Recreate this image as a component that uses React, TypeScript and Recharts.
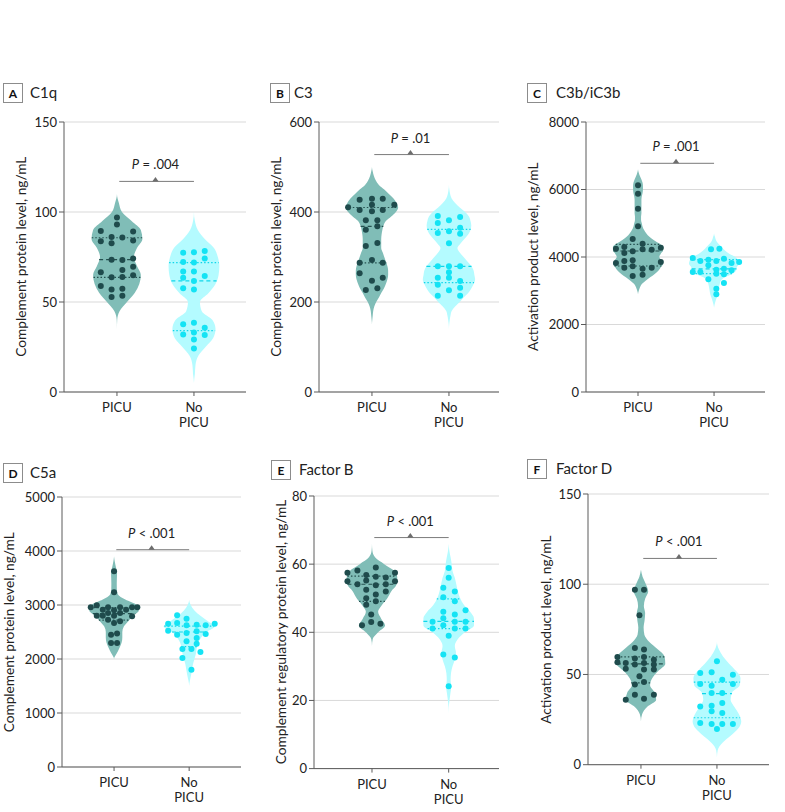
import React from 'react';
import { ComposedChart, Area, Scatter, XAxis, YAxis, CartesianGrid, ReferenceLine } from 'recharts';

const FONT = 'Lato, "Open Sans", sans-serif';
const CATEGORIES = ['PICU', 'No PICU'];
const PICU_FILL = '#80bdb7';
const PICU_DOT = '#1f4b4c';
const PICU_LINE = '#24504f';
const NO_FILL = '#b4fbff';
const NO_DOT = '#14e3f4';
const NO_LINE = '#10d6ea';

// ---------- Panel A: C1q ----------
const A_LEVELS = [115, 110, 105, 100, 95, 90, 85, 80, 75, 70, 65, 60, 55, 50, 45, 40, 35, 30, 25, 20, 15, 10, 5, 0];
const A_PICU_HW = [0, 0, 0.025, 0.065, 0.19, 0.31, 0.33, 0.26, 0.22, 0.26, 0.31, 0.29, 0.23, 0.13, 0.035, 0.003, 0, 0, 0, 0, 0, 0, 0, 0];
const A_NO_HW = [0, 0, 0, 0, 0.012, 0.05, 0.14, 0.26, 0.31, 0.33, 0.32, 0.28, 0.19, 0.078, 0.1, 0.24, 0.28, 0.25, 0.15, 0.055, 0.02, 0.012, 0, 0];
const A_PICU_VALS = [96.9, 93.1, 89.4, 89.1, 83.7, 86.1, 85.9, 82.6, 84.1, 73.5, 73.3, 74.1, 66.5, 67.8, 69.6, 63.7, 63.9, 64.8, 58.9, 56.9, 57.4, 52.8, 53.5];
const A_PICU_OFF = [0, 0, -0.21, 0.21, -0.21, -0.07, 0.07, -0.07, 0.21, -0.07, 0.07, 0.21, -0.21, 0.07, 0.21, -0.07, 0.07, 0.21, -0.21, -0.07, 0.07, -0.07, 0.07];
const A_NO_VALS = [77.4, 77.6, 78.3, 74.1, 72.2, 71.9, 67.0, 67.0, 63.5, 61.7, 64.4, 57.6, 56.9, 37.6, 38.5, 35.7, 32.0, 33.1, 31.7, 29.1, 24.1];
const A_NO_OFF = [-0.14, 0, 0.14, 0.14, -0.14, 0, -0.14, 0, -0.14, 0, 0.14, -0.14, 0, -0.14, 0, 0.14, -0.14, 0, 0.14, 0, 0];
const A_PICU_Q = [63.7, 73.5, 85.7];
const A_NO_Q = [34.1, 61.7, 71.9];
const A_TICKS = [0, 50, 100, 150];

// ---------- Panel B: C3 ----------
const B_LEVELS = [510, 500, 490, 480, 470, 460, 450, 440, 430, 420, 410, 400, 390, 380, 370, 360, 350, 340, 330, 320, 310, 300, 290, 280, 270, 260, 250, 240, 230, 220, 210, 200, 190, 180, 170, 160, 150, 140];
const B_PICU_HW = [0, 0, 0.01, 0.025, 0.05, 0.09, 0.16, 0.22, 0.28, 0.32, 0.34, 0.31, 0.25, 0.18, 0.15, 0.135, 0.125, 0.12, 0.12, 0.12, 0.14, 0.16, 0.18, 0.2, 0.21, 0.21, 0.2, 0.18, 0.155, 0.12, 0.09, 0.055, 0.03, 0.016, 0.01, 0.004, 0, 0];
const B_NO_HW = [0, 0, 0, 0, 0, 0, 0.005, 0.015, 0.035, 0.08, 0.14, 0.21, 0.26, 0.28, 0.29, 0.28, 0.25, 0.2, 0.15, 0.11, 0.14, 0.19, 0.24, 0.29, 0.32, 0.33, 0.34, 0.32, 0.29, 0.25, 0.19, 0.14, 0.08, 0.035, 0.02, 0.01, 0.003, 0];
const B_PICU_VALS = [427.4, 429.6, 429.6, 410.4, 416.3, 416.3, 404.4, 401.5, 404.4, 381.5, 381.5, 360.7, 368.1, 324.4, 331.1, 287.4, 293.3, 287.4, 263.7, 254.1, 247.4, 226.7, 230.4];
const B_PICU_OFF = [-0.16, 0, 0.14, -0.31, 0.29, 0, -0.16, 0, 0.14, -0.08, 0.07, -0.08, 0.07, -0.08, 0.07, -0.16, 0, 0.14, -0.16, 0.14, 0, -0.08, 0.07];
const B_NO_VALS = [391, 381.5, 388.9, 375.6, 357, 365, 351.9, 353.3, 330.4, 279.3, 279.3, 279.3, 266, 254, 254, 238.5, 246.7, 231.9, 225.9, 214, 214];
const B_NO_OFF = [-0.145, 0, 0.145, -0.145, 0, 0.145, 0.145, -0.145, 0, -0.145, 0, 0.145, 0, -0.145, 0, -0.145, 0.145, 0.145, 0, -0.145, 0.145];
const B_PICU_Q = [287, 368, 410];
const B_NO_Q = [243, 279, 361.5];
const B_TICKS = [0, 200, 400, 600];

// ---------- Panel C: C3b/iC3b ----------
const C_LEVELS = [6700, 6600, 6500, 6400, 6300, 6200, 6100, 6000, 5900, 5800, 5700, 5600, 5500, 5400, 5300, 5200, 5100, 5000, 4900, 4800, 4700, 4600, 4500, 4400, 4300, 4200, 4100, 4000, 3900, 3800, 3700, 3600, 3500, 3400, 3300, 3200, 3100, 3000, 2900, 2800, 2700, 2600, 2500];
const C_PICU_HW = [0, 0, 0.01, 0.025, 0.045, 0.06, 0.065, 0.065, 0.06, 0.05, 0.045, 0.045, 0.045, 0.045, 0.045, 0.04, 0.04, 0.05, 0.06, 0.08, 0.11, 0.15, 0.21, 0.28, 0.33, 0.33, 0.3, 0.28, 0.31, 0.33, 0.3, 0.27, 0.22, 0.16, 0.1, 0.05, 0.025, 0.01, 0, 0, 0, 0, 0];
const C_NO_HW = [0, 0, 0, 0, 0, 0, 0, 0, 0, 0, 0, 0, 0, 0, 0, 0, 0, 0, 0, 0, 0, 0.012, 0.026, 0.055, 0.1, 0.14, 0.2, 0.28, 0.32, 0.33, 0.3, 0.29, 0.24, 0.14, 0.09, 0.075, 0.065, 0.058, 0.05, 0.035, 0.02, 0.008, 0];
const C_PICU_VALS = [6123, 5877, 5432, 4909, 4533, 4395, 4247, 4296, 4230, 4217, 4277, 4119, 4170, 3822, 3881, 3901, 3852, 3684, 3723, 3654, 3684, 3437, 3477];
const C_PICU_OFF = [0, 0, 0, 0, -0.07, 0.06, -0.29, -0.18, 0.06, 0.18, 0.3, -0.18, -0.07, -0.29, -0.18, -0.07, 0.3, -0.18, -0.07, 0.06, 0.18, -0.07, 0.06];
const C_NO_VALS = [4227, 4247, 3970, 3881, 3921, 3881, 3950, 3822, 3852, 3556, 3556, 3753, 3625, 3654, 3605, 3338, 3506, 3486, 3230, 3062, 2894];
const C_NO_OFF = [-0.04, 0.07, -0.28, -0.18, -0.075, 0.03, 0.13, 0.23, 0.33, -0.28, -0.18, -0.075, 0.03, 0.13, 0.23, -0.075, 0.03, 0.13, 0.13, 0.03, 0.03];
const C_PICU_Q = [3733, 4178, 4375];
const C_NO_Q = [3510, 3650, 3920];
const C_TICKS = [0, 2000, 4000, 6000, 8000];

// ---------- Panel D: C5a ----------
const D_LEVELS = [3900, 3800, 3700, 3600, 3500, 3400, 3300, 3200, 3100, 3000, 2900, 2800, 2700, 2600, 2500, 2400, 2300, 2200, 2100, 2000, 1900, 1800, 1700, 1600, 1500, 1400];
const D_PICU_HW = [0, 0.01, 0.025, 0.04, 0.038, 0.036, 0.037, 0.05, 0.15, 0.3, 0.33, 0.25, 0.19, 0.13, 0.11, 0.11, 0.1, 0.07, 0.035, 0, 0, 0, 0, 0, 0, 0];
const D_NO_HW = [0, 0, 0, 0, 0, 0, 0, 0, 0, 0.02, 0.07, 0.15, 0.25, 0.34, 0.23, 0.16, 0.12, 0.1, 0.09, 0.07, 0.05, 0.038, 0.025, 0.01, 0, 0];
const D_PICU_VALS = [3623, 3234, 2957, 2994, 2914, 2957, 2901, 2957, 2914, 2957, 2957, 2803, 2803, 2852, 2803, 2852, 2790, 2728, 2667, 2698, 2451, 2470, 2297, 2297];
const D_PICU_OFF = [0, 0, -0.31, -0.23, -0.15, -0.08, 0, 0.08, 0.16, 0.24, 0.31, -0.23, -0.15, -0.08, 0, 0.08, 0.24, -0.08, 0, 0.08, -0.04, 0.04, -0.04, 0.04];
const D_NO_VALS = [2809, 2747, 2654, 2667, 2623, 2636, 2623, 2654, 2525, 2451, 2481, 2512, 2463, 2327, 2389, 2284, 2185, 2185, 2130, 2018, 1802];
const D_NO_OFF = [-0.16, -0.035, -0.28, -0.16, -0.035, 0.1, 0.22, 0.34, -0.28, -0.16, -0.035, 0.1, 0.22, -0.035, 0.1, 0.1, -0.09, 0.03, 0.15, -0.09, 0.03];
const D_PICU_Q = [2720, 2840, 2950];
const D_NO_Q = [2230, 2500, 2610];
const D_TICKS = [0, 1000, 2000, 3000, 4000, 5000];

// ---------- Panel E: Factor B ----------
const E_LEVELS = [66, 64, 62, 60, 58, 56, 54, 52, 50, 48, 46, 44, 42, 40, 38, 36, 34, 32, 30, 28, 26, 24, 22, 20, 18, 16];
const E_PICU_HW = [0, 0.005, 0.04, 0.16, 0.29, 0.33, 0.32, 0.25, 0.2, 0.13, 0.08, 0.12, 0.17, 0.08, 0.01, 0, 0, 0, 0, 0, 0, 0, 0, 0, 0, 0];
const E_NO_HW = [0, 0.008, 0.025, 0.04, 0.05, 0.08, 0.1, 0.12, 0.15, 0.2, 0.28, 0.33, 0.33, 0.21, 0.12, 0.08, 0.095, 0.08, 0.05, 0.03, 0.025, 0.033, 0.022, 0.01, 0.002, 0];
const E_PICU_VALS = [57.5, 58.1, 59.0, 56.8, 57.5, 55.0, 54.1, 55.2, 56.3, 56.1, 55.0, 53.8, 54.1, 52.5, 51.1, 52.0, 50.0, 48.1, 49.1, 45.2, 43.0, 42.1, 42.5];
const E_PICU_OFF = [-0.32, -0.19, 0.05, -0.075, 0.3, -0.32, -0.19, -0.075, 0.05, 0.18, 0.3, 0.05, 0.18, -0.075, 0.05, 0.18, -0.075, -0.075, 0.05, -0.01, -0.01, -0.13, 0.11];
const E_NO_VALS = [58.9, 56.0, 53.1, 52.0, 50.3, 49.1, 46.0, 46.5, 44.1, 45.2, 43.1, 43.1, 43.1, 42.1, 41.1, 41.1, 41.1, 39.0, 33.5, 32.6, 24.2];
const E_NO_OFF = [0, 0, -0.07, 0.08, -0.07, 0.08, -0.07, 0.22, -0.07, 0.08, -0.21, 0.08, 0.22, -0.07, -0.21, 0.08, 0.22, 0, -0.07, 0.08, 0];
const E_PICU_Q = [49.1, 54.1, 56.5];
const E_NO_Q = [41.1, 43.2, 49.8];
const E_TICKS = [0, 20, 40, 60, 80];

// ---------- Panel F: Factor D ----------
const F_LEVELS = [108, 104, 100, 96, 92, 88, 84, 80, 76, 72, 68, 64, 60, 56, 52, 48, 44, 40, 36, 32, 28, 24, 20, 16, 12, 8, 4];
const F_PICU_HW = [0, 0.022, 0.065, 0.095, 0.055, 0.038, 0.055, 0.048, 0.035, 0.045, 0.11, 0.22, 0.31, 0.32, 0.23, 0.15, 0.12, 0.18, 0.2, 0.08, 0.015, 0, 0, 0, 0, 0, 0];
const F_NO_HW = [0, 0, 0, 0, 0, 0, 0, 0, 0, 0, 0, 0.025, 0.08, 0.16, 0.25, 0.31, 0.3, 0.2, 0.18, 0.23, 0.29, 0.32, 0.28, 0.18, 0.07, 0.01, 0];
const F_PICU_VALS = [96.9, 96.9, 82.8, 64.7, 63.8, 59.7, 56.7, 56.4, 53.2, 58.8, 59.7, 58.2, 55.5, 56.4, 55.5, 52.7, 52.7, 49.0, 44.4, 45.8, 38.8, 36.0, 36.6, 38.8];
const F_PICU_OFF = [-0.08, 0.04, -0.02, -0.08, 0.04, -0.31, -0.31, -0.2, -0.2, -0.08, 0.04, 0.17, -0.08, 0.04, 0.17, 0.04, 0.17, -0.02, -0.08, 0.04, -0.08, -0.2, 0.04, 0.17];
const F_NO_VALS = [57.3, 50.8, 51.2, 49.9, 44.7, 43.8, 47.1, 44.7, 39.7, 39.7, 32.3, 32.7, 34.2, 29.6, 28.7, 23.1, 22.6, 22.6, 22.6, 19.8];
const F_NO_OFF = [0, -0.22, -0.07, 0.21, -0.22, -0.07, 0.07, 0.21, -0.07, 0.07, -0.22, -0.07, 0.07, -0.07, 0.07, -0.22, -0.07, 0.07, 0.21, 0];
const F_PICU_Q = [45.3, 55.9, 59.7];
const F_NO_Q = [26.0, 39.4, 45.7];
const F_TICKS = [0, 50, 100, 150];

// P values
const P_OPS = ['=', '=', '=', '<', '<', '<'];
const P_VALUES = ['.004', '.01', '.001', '.001', '.001', '.001'];
const P_LEVELS = [117, 527.6, 6776, 4024, 67.8, 114.3];
const BRACKET = [1.03, 2.0];

const LETTERS = ['A', 'B', 'C', 'D', 'E', 'F'];
const TITLES = ['C1q', 'C3', 'C3b/iC3b', 'C5a', 'Factor B', 'Factor D'];
const Y_TITLES = [
  'Complement protein level, ng/mL',
  'Complement protein level, ng/mL',
  'Activation product level, ng/mL',
  'Complement protein level, ng/mL',
  'Complement regulatory protein level, ng/mL',
  'Activation product level, ng/mL',
];

// layout (page pixels)
const LAYOUT = [
  { plotLeft: 64, plotTop: 121.7, plotW: 182, plotH: 270, dom: [0.312, 2.676], boxX: 3, boxY: 83, textX: 30, titleX: 26 },
  { plotLeft: 319, plotTop: 121.7, plotW: 180, plotH: 270, dom: [0.312, 2.65], boxX: 270, boxY: 83, textX: 294, titleX: 281 },
  { plotLeft: 586, plotTop: 121.7, plotW: 179, plotH: 270, dom: [0.316, 2.67], boxX: 527, boxY: 83, textX: 556, titleX: 538 },
  { plotLeft: 62, plotTop: 497.3, plotW: 179, plotH: 270, dom: [0.307, 2.69], boxX: 3, boxY: 463, textX: 30, titleX: 14 },
  { plotLeft: 314, plotTop: 495.7, plotW: 185, plotH: 272.6, dom: [0.244, 2.656], boxX: 271, boxY: 460, textX: 299, titleX: 286 },
  { plotLeft: 588, plotTop: 494.3, plotW: 181, plotH: 270.7, dom: [0.303, 2.685], boxX: 527, boxY: 459, textX: 556, titleX: 551 },
];

const PANEL_DATA = [
  { levels: A_LEVELS, ph: A_PICU_HW, nh: A_NO_HW, pv: A_PICU_VALS, po: A_PICU_OFF, nv: A_NO_VALS, no: A_NO_OFF, pq: A_PICU_Q, nq: A_NO_Q, ticks: A_TICKS },
  { levels: B_LEVELS, ph: B_PICU_HW, nh: B_NO_HW, pv: B_PICU_VALS, po: B_PICU_OFF, nv: B_NO_VALS, no: B_NO_OFF, pq: B_PICU_Q, nq: B_NO_Q, ticks: B_TICKS },
  { levels: C_LEVELS, ph: C_PICU_HW, nh: C_NO_HW, pv: C_PICU_VALS, po: C_PICU_OFF, nv: C_NO_VALS, no: C_NO_OFF, pq: C_PICU_Q, nq: C_NO_Q, ticks: C_TICKS },
  { levels: D_LEVELS, ph: D_PICU_HW, nh: D_NO_HW, pv: D_PICU_VALS, po: D_PICU_OFF, nv: D_NO_VALS, no: D_NO_OFF, pq: D_PICU_Q, nq: D_NO_Q, ticks: D_TICKS },
  { levels: E_LEVELS, ph: E_PICU_HW, nh: E_NO_HW, pv: E_PICU_VALS, po: E_PICU_OFF, nv: E_NO_VALS, no: E_NO_OFF, pq: E_PICU_Q, nq: E_NO_Q, ticks: E_TICKS },
  { levels: F_LEVELS, ph: F_PICU_HW, nh: F_NO_HW, pv: F_PICU_VALS, po: F_PICU_OFF, nv: F_NO_VALS, no: F_NO_OFF, pq: F_PICU_Q, nq: F_NO_Q, ticks: F_TICKS },
];

const YW = 50;
const MT = 10;
const MR = 4;
const XH = 45;

function hwAt(levels: number[], hw: number[], v: number) {
  for (let i = 0; i < levels.length - 1; i++) {
    const a = levels[i];
    const b = levels[i + 1];
    if (v <= a && v >= b) {
      const t = (a - v) / (a - b);
      return hw[i] + t * (hw[i + 1] - hw[i]);
    }
  }
  return 0;
}

const CatTick = (props: any) => {
  const { x, y, payload } = props;
  const label = CATEGORIES[Math.round(payload.value) - 1] || '';
  const lines = label === 'No PICU' ? ['No', 'PICU'] : [label];
  return (
    <text x={x} y={y} textAnchor="middle" fontSize={13} fontFamily={FONT} fill="#222">
      {lines.map((l, i) => (
        <tspan key={i} x={x} dy={i === 0 ? 14 : 15}>{l}</tspan>
      ))}
    </text>
  );
};

const makeDot = (color: string) => (props: any) => {
  const { cx, cy } = props;
  if (cx == null || cy == null) return <g />;
  return <circle cx={cx} cy={cy} r={3} fill={color} />;
};

const makePMark = (op: string, val: string) => (props: any) => {
  const { cx, cy } = props;
  if (cx == null || cy == null) return <g />;
  return (
    <g>
      <path d={`M${cx - 3.2},${cy} L${cx + 3.2},${cy} L${cx},${cy - 4.5} Z`} fill="#6d6d6d" />
      <text x={cx} y={cy - 12} textAnchor="middle" fontSize={13} fontFamily={FONT} fill="#222">
        <tspan fontStyle="italic">P</tspan>
        <tspan>{` ${op} ${val}`}</tspan>
      </text>
    </g>
  );
};

function Panel({ idx }: { idx: number }) {
  const d = PANEL_DATA[idx];
  const L = LAYOUT[idx];
  const yMax = d.ticks[d.ticks.length - 1];
  const rows = d.levels.map((y, i) => ({
    y,
    picu: [1 - d.ph[i], 1 + d.ph[i]],
    nopicu: [2 - d.nh[i], 2 + d.nh[i]],
  }));
  const picuPts = d.pv.map((v, i) => ({ x: 1 + d.po[i], y: v }));
  const noPts = d.nv.map((v, i) => ({ x: 2 + d.no[i], y: v }));
  const pPt = [{ x: (BRACKET[0] + BRACKET[1]) / 2 - 0.015, y: P_LEVELS[idx] }];
  const qLines: any[] = [];
  [0, 1, 2].forEach((qi) => {
    const pv = d.pq[qi];
    const pw = hwAt(d.levels, d.ph, pv);
    qLines.push({ c: 1, v: pv, w: pw, color: PICU_LINE, dash: qi === 1 ? '4 3' : '1.5 2' });
    const nv = d.nq[qi];
    const nw = hwAt(d.levels, d.nh, nv);
    qLines.push({ c: 2, v: nv, w: nw, color: NO_LINE, dash: qi === 1 ? '4 3' : '1.5 2' });
  });
  const W = YW + L.plotW + MR;
  const H = MT + L.plotH + XH;
  return (
    <div style={{ position: 'absolute', left: L.plotLeft - YW, top: L.plotTop - MT, width: W, height: H }}>
      <ComposedChart
        width={W}
        height={H}
        data={rows}
        layout="vertical"
        margin={{ top: MT, right: MR, left: 0, bottom: 0 }}
      >
        <CartesianGrid vertical={false} stroke="#d9d9d9" />
        <XAxis
          type="number"
          dataKey="x"
          domain={L.dom}
          ticks={[1, 2]}
          allowDataOverflow
          interval={0}
          height={XH}
          tickSize={4}
          tickMargin={2}
          axisLine={{ stroke: '#5a5a5a' }}
          tickLine={{ stroke: '#5a5a5a' }}
          tick={<CatTick />}
        />
        <YAxis
          type="number"
          dataKey="y"
          domain={[0, yMax]}
          ticks={d.ticks}
          reversed
          allowDataOverflow
          interval={0}
          width={YW}
          tickSize={5}
          tickMargin={2}
          axisLine={{ stroke: '#5a5a5a' }}
          tickLine={{ stroke: '#5a5a5a' }}
          tick={{ fontSize: 13, fill: '#222', fontFamily: FONT }}
        />
        <Area
          dataKey="picu"
          type="monotone"
          stroke="none"
          fill={PICU_FILL}
          fillOpacity={1}
          dot={false}
          activeDot={false}
          isAnimationActive={false}
        />
        <Area
          dataKey="nopicu"
          type="monotone"
          stroke="none"
          fill={NO_FILL}
          fillOpacity={1}
          dot={false}
          activeDot={false}
          isAnimationActive={false}
        />
        {qLines.map((q, i) => (
          <ReferenceLine
            key={i}
            segment={[{ x: q.c - q.w, y: q.v }, { x: q.c + q.w, y: q.v }]}
            stroke={q.color}
            strokeWidth={1.2}
            strokeDasharray={q.dash}
            ifOverflow="visible"
          />
        ))}
        <Scatter data={picuPts} shape={makeDot(PICU_DOT)} isAnimationActive={false} />
        <Scatter data={noPts} shape={makeDot(NO_DOT)} isAnimationActive={false} />
        <ReferenceLine
          segment={[{ x: BRACKET[0], y: P_LEVELS[idx] }, { x: BRACKET[1], y: P_LEVELS[idx] }]}
          stroke="#7a7a7a"
          strokeWidth={1}
          ifOverflow="visible"
        />
        <Scatter data={pPt} shape={makePMark(P_OPS[idx], P_VALUES[idx])} isAnimationActive={false} />
      </ComposedChart>
    </div>
  );
}

export default function App() {
  return (
    <div style={{ position: 'absolute', left: 0, top: 0, width: 785, height: 812, background: '#fff' }}>
      {[0, 1, 2, 3, 4, 5].map((i) => (
        <Panel key={i} idx={i} />
      ))}
      <svg width={785} height={812} style={{ position: 'absolute', left: 0, top: 0, pointerEvents: 'none' }}>
        {LAYOUT.map((L, i) => {
          const cy = L.plotTop + L.plotH / 2;
          return (
            <g key={i}>
              <rect x={L.boxX + 0.5} y={L.boxY + 0.5} width={19} height={19} fill="#fff" stroke="#8c8c8c" />
              <text x={L.boxX + 10} y={L.boxY + 14.5} textAnchor="middle" fontWeight={700} fontSize={12} fontFamily={FONT} fill="#111">
                {LETTERS[i]}
              </text>
              <text x={L.textX} y={L.boxY + 15} fontSize={15} fontFamily={FONT} fill="#222">
                {TITLES[i]}
              </text>
              <text
                x={L.titleX}
                y={cy}
                transform={`rotate(-90 ${L.titleX} ${cy})`}
                textAnchor="middle"
                fontSize={13.7}
                fontFamily={FONT}
                fill="#222"
              >
                {Y_TITLES[i]}
              </text>
            </g>
          );
        })}
      </svg>
    </div>
  );
}
